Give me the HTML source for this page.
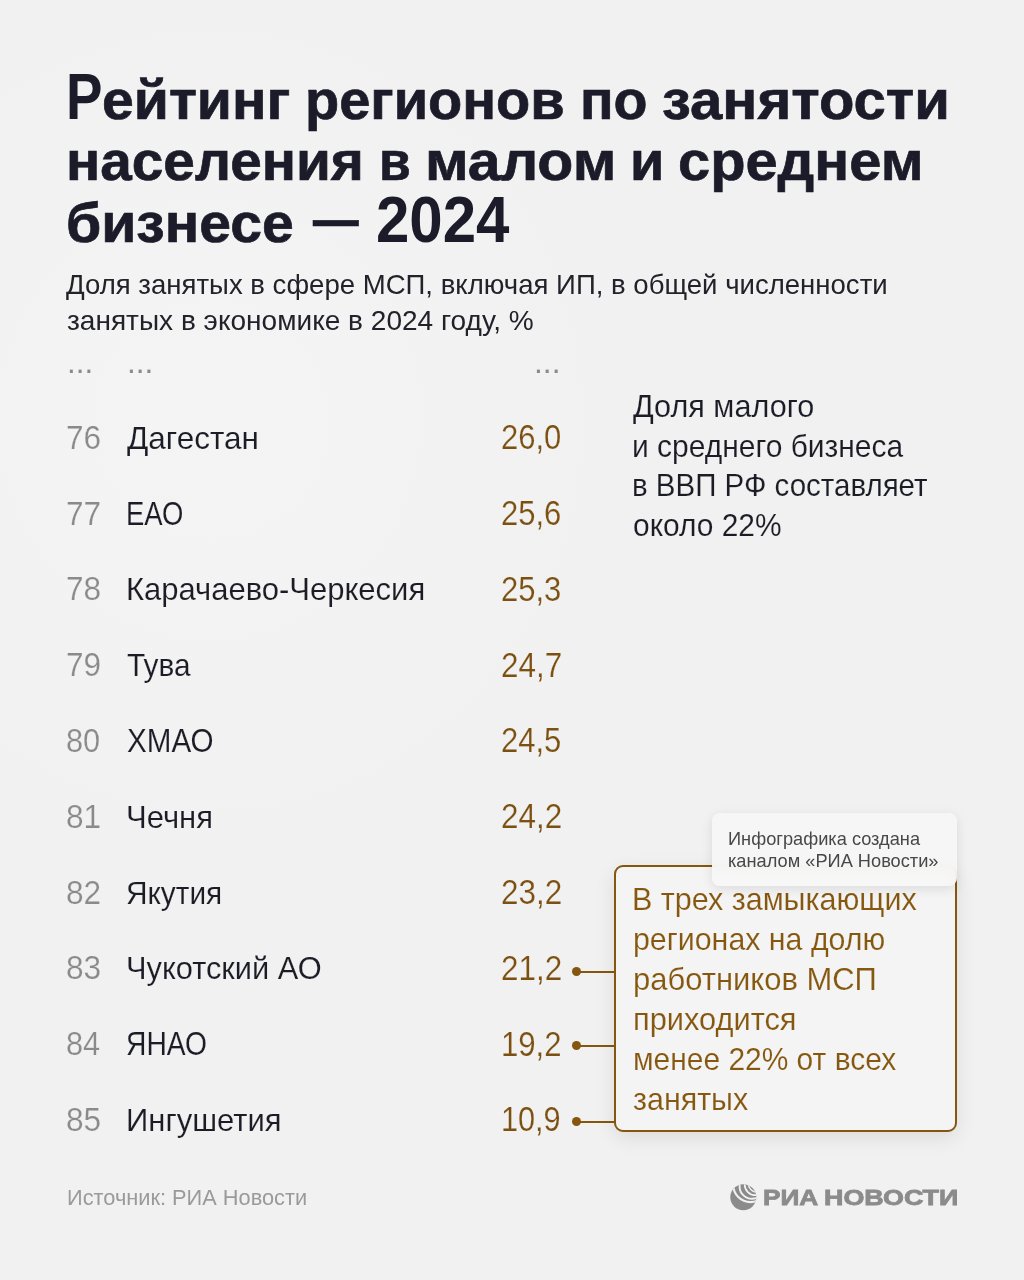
<!DOCTYPE html>
<html lang="ru">
<head>
<meta charset="utf-8">
<title>Рейтинг регионов по занятости населения в малом и среднем бизнесе — 2024</title>
<style>
html,body{margin:0;padding:0;}
body{width:1024px;height:1280px;overflow:hidden;background:#f1f1f1 radial-gradient(ellipse 430px 450px at 210px 420px,#f4f4f4 0%,#f3f3f3 40%,#f2f2f2 70%,#f1f1f1 100%);font-family:"Liberation Sans",sans-serif;color:#1c1c28;position:relative;}
h1{margin:0;padding:0;font-size:inherit;font-weight:bold;}
.l{position:absolute;display:block;white-space:nowrap;line-height:1;margin:0;transform-origin:0 0;}
.h{font-weight:bold;color:#1b1b29;-webkit-text-stroke:0.7px #1b1b29;}
.ns{-webkit-text-stroke:0;}
.sub{color:#22222b;}
.num{color:#8a8a8a;-webkit-text-stroke:0.2px #f2f2f2;}
.nm{color:#1c1c26;-webkit-text-stroke:0.12px #f2f2f2;}
.val{color:#7b5010;-webkit-text-stroke:0.2px #f2f2f2;}
.side{color:#1c1c26;-webkit-text-stroke:0.12px #f1f1f1;}
.bt{color:#85570f;-webkit-text-stroke:0.15px #f4f4f4;}
.tt{color:#484848;}
.src{color:#9a9a9a;}
.lg{font-weight:bold;color:#8b8b8b;-webkit-text-stroke:0.8px #8b8b8b;}
.dots{color:#8a8a8a;}
.box{position:absolute;left:613.5px;top:864.5px;width:339.5px;height:263.5px;border:2px solid #85560f;border-radius:9px;background:#f4f4f4;box-shadow:0 6px 20px rgba(0,0,0,0.09);}
.tip{position:absolute;left:712px;top:812.7px;width:245px;height:73px;border-radius:8px;background:rgba(246,246,246,0.93);-webkit-backdrop-filter:blur(4px);backdrop-filter:blur(4px);box-shadow:0 3px 12px rgba(0,0,0,0.10);}
.con{position:absolute;left:577px;width:37px;height:2px;background:#85560f;}
.dot{position:absolute;left:571.6px;width:9.6px;height:9.6px;border-radius:50%;background:#85560f;}
.logo{position:absolute;left:724px;top:1176px;}
</style>
</head>
<body>
<h1>
<span class="l h ns" style="left:66.38px;top:65.32px;font-size:64px;transform:scaleX(0.8541)">Р</span><span class="l h" style="left:102.06px;top:71.6px;font-size:56px;transform:scaleX(1.0202)">ейтинг</span>
<span class="l h" style="left:305.2px;top:71.6px;font-size:56px;transform:scaleX(0.9998)">регионов</span>
<span class="l h" style="left:579.62px;top:71.6px;font-size:56px;transform:scaleX(0.9934)">по</span>
<span class="l h" style="left:661.66px;top:71.6px;font-size:56px;transform:scaleX(1.0360)">занятости</span>
<span class="l h" style="left:66.36px;top:133.3px;font-size:56px;transform:scaleX(1.0129)">населения</span>
<span class="l h" style="left:378.54px;top:133.3px;font-size:56px;transform:scaleX(0.9200)">в</span>
<span class="l h" style="left:424.54px;top:133.3px;font-size:56px;transform:scaleX(1.0535)">малом</span>
<span class="l h" style="left:629.71px;top:133.3px;font-size:56px;transform:scaleX(0.9964)">и</span>
<span class="l h" style="left:678.34px;top:133.3px;font-size:56px;transform:scaleX(1.0324)">среднем</span>
<span class="l h" style="left:66.16px;top:194.8px;font-size:56px;transform:scaleX(1.0194)">бизнесе</span>
<span class="l h" style="left:312.9px;top:191.3px;font-size:56px;transform:scaleX(0.8143)">—</span>
<span class="l h ns" style="left:375.92px;top:188.02px;font-size:64px;transform:scaleX(0.9376)">2024</span>
</h1>

<div class="l sub" style="left:66.3px;top:270.72px;font-size:27.5px;transform:scaleX(1.0021)">Доля занятых в сфере МСП, включая ИП, в общей численности</div>
<div class="l sub" style="left:66.9px;top:306.52px;font-size:27.5px;transform:scaleX(1.0197)">занятых в экономике в 2024 году, %</div>

<div class="l dots" style="left:66.94px;top:345.91px;font-size:32px;transform:scaleX(0.9779)">...</div>
<div class="l dots" style="left:126.63px;top:345.91px;font-size:32px;transform:scaleX(0.9871)">...</div>
<div class="l dots" style="left:534.22px;top:345.91px;font-size:32px;transform:scaleX(0.9917)">...</div>

<div class="row"><div class="l num" style="left:66.14px;top:420.87px;font-size:33px;transform:scaleX(0.9577)">76</div><div class="l nm" style="left:126.5px;top:421.71px;font-size:32px;transform:scaleX(0.9847)">Дагестан</div><div class="l val" style="left:500.63px;top:420.15px;font-size:35.5px;transform:scaleX(0.8731)">26,0</div></div>
<div class="row"><div class="l num" style="left:66.14px;top:496.67px;font-size:33px;transform:scaleX(0.9577)">77</div><div class="l nm" style="left:126.18px;top:496.89px;font-size:33.8px;transform:scaleX(0.8123)">ЕАО</div><div class="l val" style="left:500.63px;top:495.95px;font-size:35.5px;transform:scaleX(0.8731)">25,6</div></div>
<div class="row"><div class="l num" style="left:66.14px;top:572.47px;font-size:33px;transform:scaleX(0.9577)">78</div><div class="l nm" style="left:125.86px;top:573.31px;font-size:32px;transform:scaleX(0.9683)">Карачаево-Черкесия</div><div class="l val" style="left:500.63px;top:571.75px;font-size:35.5px;transform:scaleX(0.8731)">25,3</div></div>
<div class="row"><div class="l num" style="left:66.14px;top:648.27px;font-size:33px;transform:scaleX(0.9577)">79</div><div class="l nm" style="left:126.9px;top:649.11px;font-size:32px;transform:scaleX(0.9314)">Тува</div><div class="l val" style="left:500.61px;top:647.55px;font-size:35.5px;transform:scaleX(0.8862)">24,7</div></div>
<div class="row"><div class="l num" style="left:66.17px;top:724.07px;font-size:33px;transform:scaleX(0.9306)">80</div><div class="l nm" style="left:126.5px;top:724.29px;font-size:33.8px;transform:scaleX(0.8759)">ХМАО</div><div class="l val" style="left:500.63px;top:723.35px;font-size:35.5px;transform:scaleX(0.8731)">24,5</div></div>
<div class="row"><div class="l num" style="left:66.14px;top:799.87px;font-size:33px;transform:scaleX(0.9577)">81</div><div class="l nm" style="left:125.86px;top:800.71px;font-size:32px;transform:scaleX(0.9698)">Чечня</div><div class="l val" style="left:500.61px;top:799.15px;font-size:35.5px;transform:scaleX(0.8862)">24,2</div></div>
<div class="row"><div class="l num" style="left:66.14px;top:875.67px;font-size:33px;transform:scaleX(0.9577)">82</div><div class="l nm" style="left:125.97px;top:876.51px;font-size:32px;transform:scaleX(0.9307)">Якутия</div><div class="l val" style="left:500.61px;top:874.95px;font-size:35.5px;transform:scaleX(0.8862)">23,2</div></div>
<div class="row"><div class="l num" style="left:66.14px;top:951.47px;font-size:33px;transform:scaleX(0.9577)">83</div><div class="l nm" style="left:125.88px;top:952.31px;font-size:32px;transform:scaleX(0.9623)">Чукотский АО</div><div class="l val" style="left:500.61px;top:950.75px;font-size:35.5px;transform:scaleX(0.8862)">21,2</div></div>
<div class="row"><div class="l num" style="left:66.17px;top:1027.27px;font-size:33px;transform:scaleX(0.9306)">84</div><div class="l nm" style="left:126.07px;top:1027.49px;font-size:33.8px;transform:scaleX(0.8350)">ЯНАО</div><div class="l val" style="left:501.25px;top:1026.55px;font-size:35.5px;transform:scaleX(0.8768)">19,2</div></div>
<div class="row"><div class="l num" style="left:66.14px;top:1103.07px;font-size:33px;transform:scaleX(0.9577)">85</div><div class="l nm" style="left:126.06px;top:1103.91px;font-size:32px;transform:scaleX(0.9690)">Ингушетия</div><div class="l val" style="left:501.27px;top:1102.35px;font-size:35.5px;transform:scaleX(0.8636)">10,9</div></div>

<div class="l side" style="left:632.5px;top:390.21px;font-size:32px;transform:scaleX(0.9565)">Доля малого</div>
<div class="l side" style="left:632.33px;top:429.71px;font-size:32px;transform:scaleX(0.9361)">и среднего бизнеса</div>
<div class="l side" style="left:632.36px;top:469.31px;font-size:32px;transform:scaleX(0.9219)">в ВВП РФ составляет</div>
<div class="l side" style="left:632.57px;top:508.91px;font-size:32px;transform:scaleX(0.9342)">около 22%</div>

<div class="con" style="top:970.7px"></div><div class="dot" style="top:966.9px"></div>
<div class="con" style="top:1044.6px"></div><div class="dot" style="top:1040.8px"></div>
<div class="con" style="top:1120.5px"></div><div class="dot" style="top:1116.7px"></div>

<div class="box"></div>
<div class="l bt" style="left:632.49px;top:883.21px;font-size:32px;transform:scaleX(0.9527)">В трех замыкающих</div>
<div class="l bt" style="left:633.1px;top:923.01px;font-size:32px;transform:scaleX(0.9480)">регионах на долю</div>
<div class="l bt" style="left:633.06px;top:962.81px;font-size:32px;transform:scaleX(0.9676)">работников МСП</div>
<div class="l bt" style="left:633.08px;top:1002.61px;font-size:32px;transform:scaleX(0.9623)">приходится</div>
<div class="l bt" style="left:633.13px;top:1042.51px;font-size:32px;transform:scaleX(0.9355)">менее 22% от всех</div>
<div class="l bt" style="left:633.2px;top:1082.71px;font-size:32px;transform:scaleX(0.9511)">занятых</div>

<div class="tip"></div>
<div class="l tt" style="left:727.98px;top:830.83px;font-size:17.8px;transform:scaleX(1.0243)">Инфографика создана</div>
<div class="l tt" style="left:727.98px;top:853.23px;font-size:17.8px;transform:scaleX(1.0246)">каналом «РИА Новости»</div>

<div class="l src" style="left:66.58px;top:1187.87px;font-size:21.3px;transform:scaleX(1.0226)">Источник: РИА Новости</div>

<svg class="logo" width="40" height="40" viewBox="724 1176 40 40">
  <defs><clipPath id="gc"><circle cx="743.3" cy="1197.2" r="13"/></clipPath></defs>
  <circle cx="743.3" cy="1197.2" r="13" fill="#8b8b8b"/>
  <g clip-path="url(#gc)" fill="none" stroke="#f1f1f1">
    <circle cx="750.5" cy="1184.8" r="17.3" stroke-width="2.1"/>
    <circle cx="752.0" cy="1186.4" r="12.4" stroke-width="1.9"/>
    <circle cx="755.4" cy="1184.5" r="10.7" stroke-width="1.7"/>
    <circle cx="758.0" cy="1182.7" r="9.9" stroke-width="1.5"/>
  </g>
</svg>
<div class="logotext"><span class="l lg" style="left:762.58px;top:1187.9px;font-size:21.5px;transform:scaleX(1.2194)">РИА</span> <span class="l lg" style="left:824.15px;top:1187.9px;font-size:21.5px;transform:scaleX(1.2490)">НОВОСТИ</span></div>
</body>
</html>
